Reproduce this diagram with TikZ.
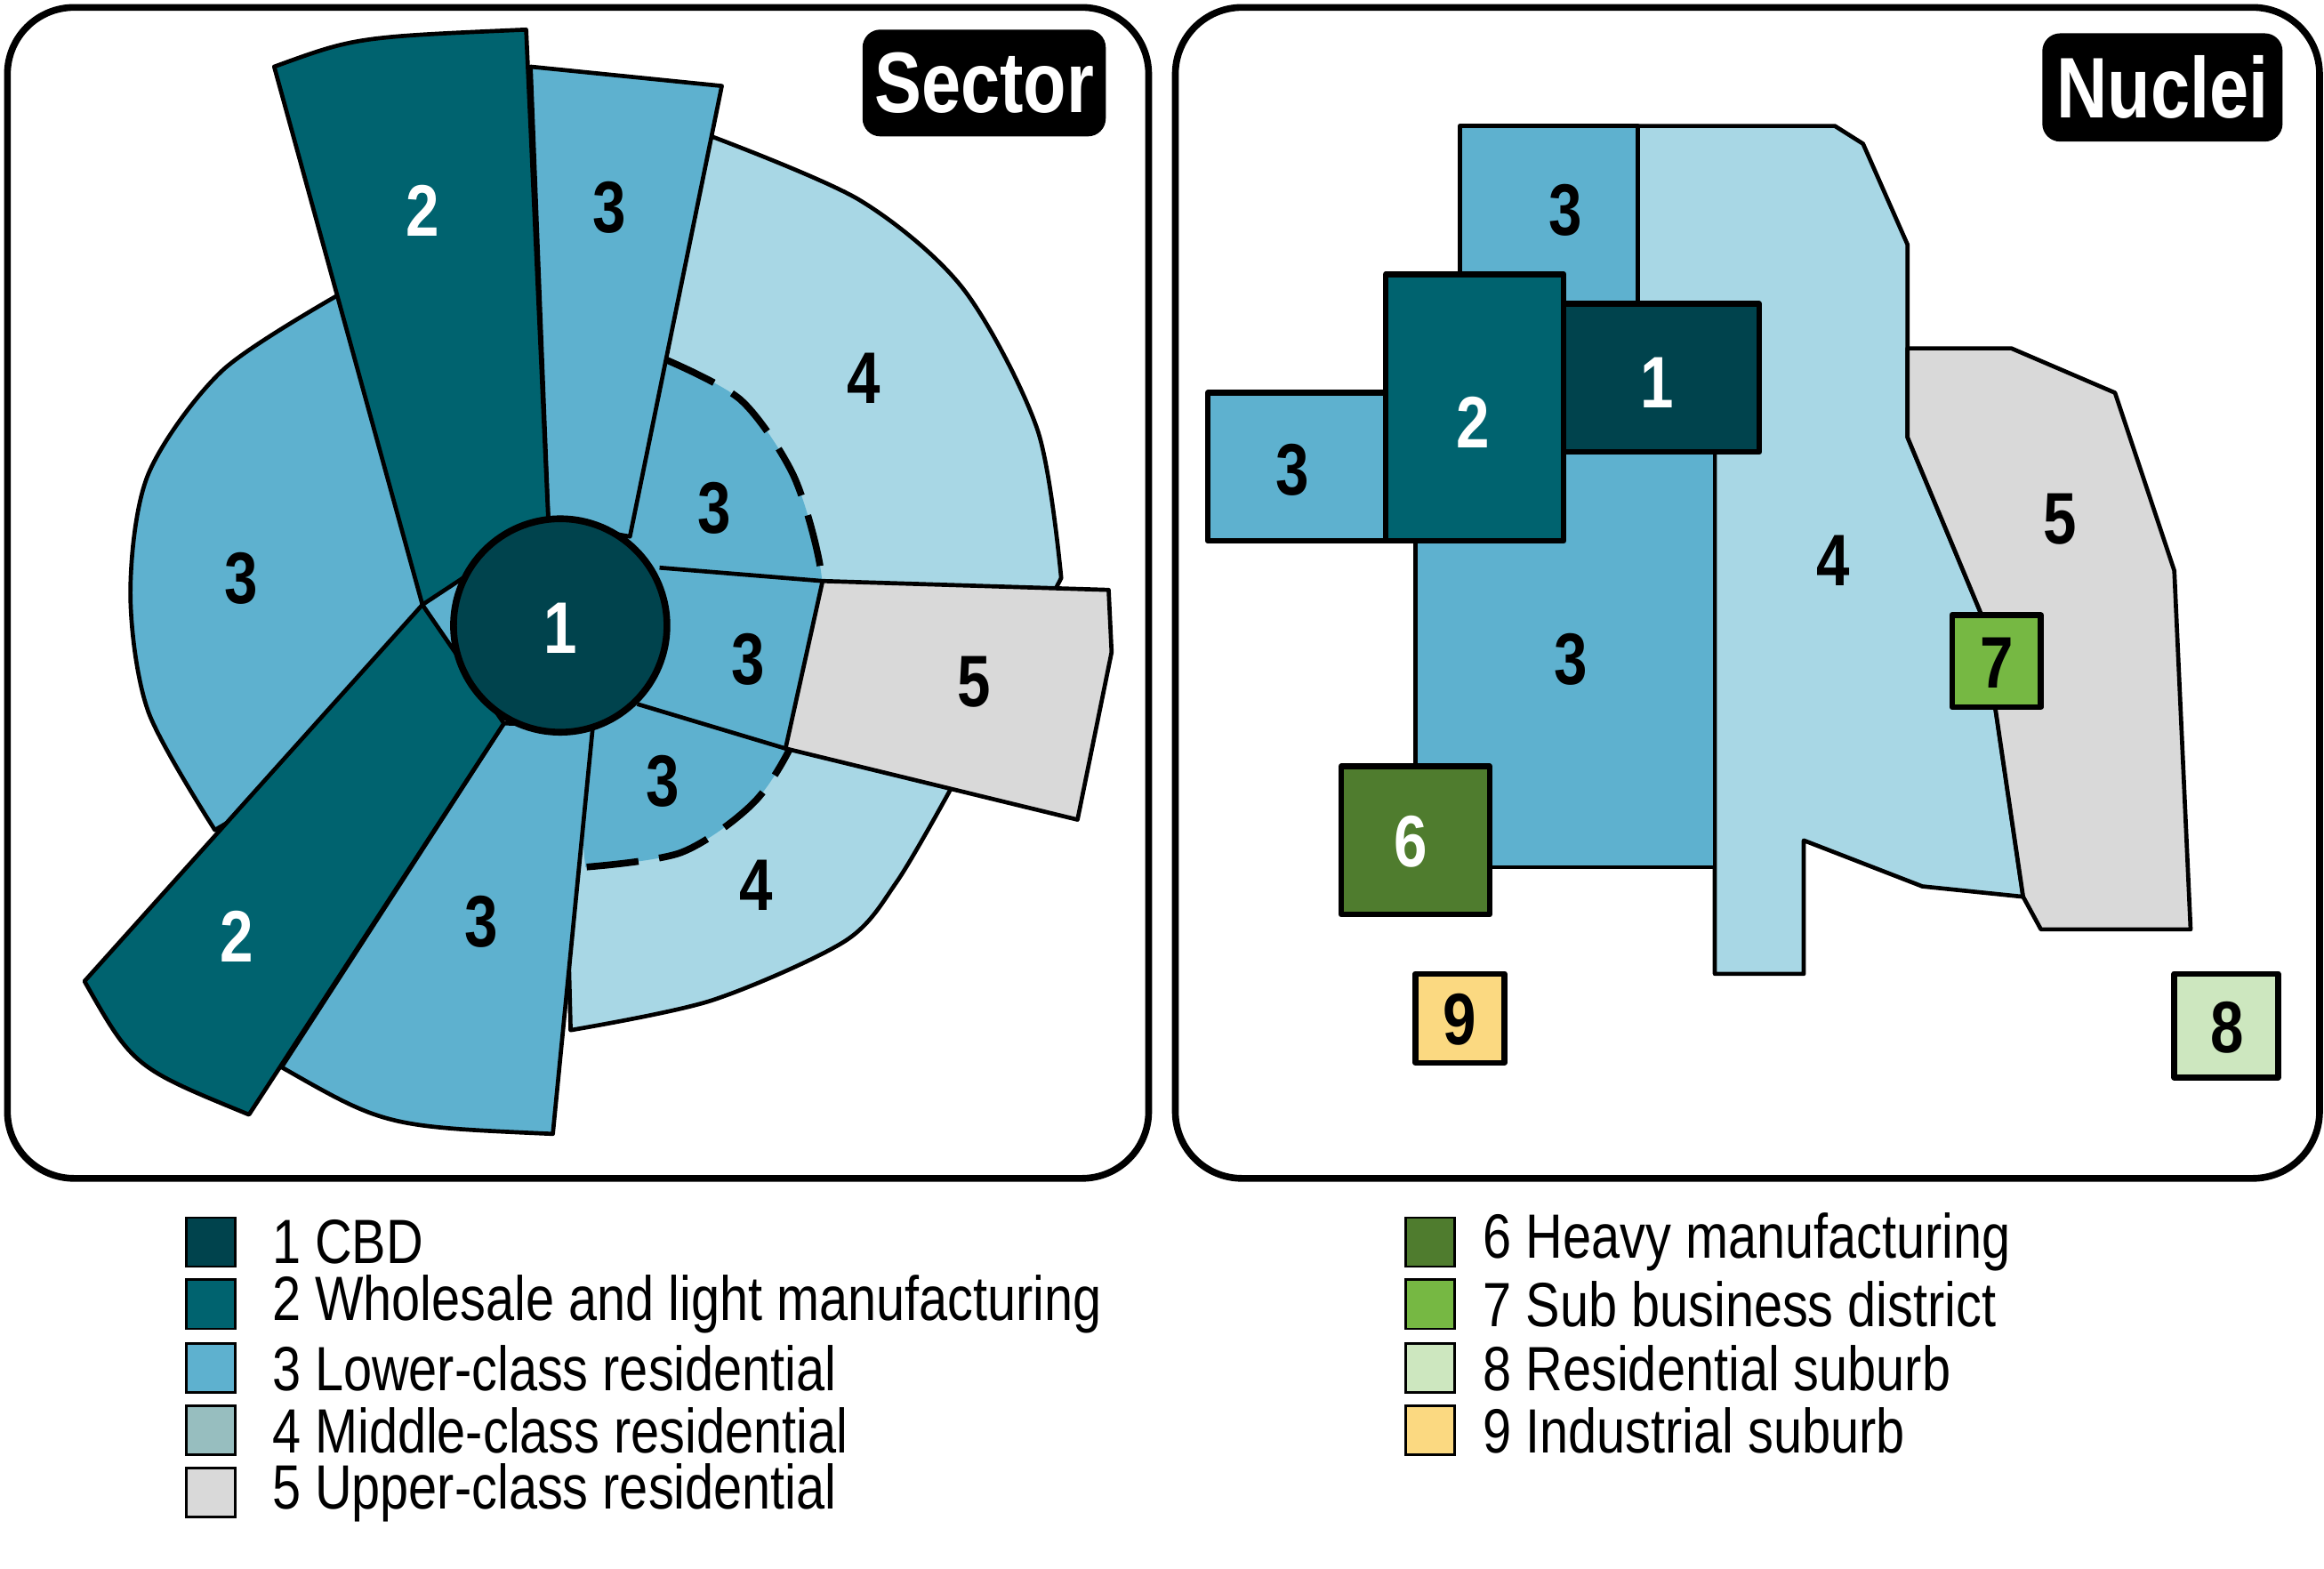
\documentclass[tikz,border=0pt]{standalone}
\usepackage{fontspec}
\setmainfont{Liberation Sans}[FakeStretch=0.82]
\begin{document}
\begin{tikzpicture}[x=0.01cm,y=-0.01cm,
  sh/.style={draw=black,line width=0.8pt,line join=round},
  lbl/.style={font=\bfseries\fontsize{14}{14}\selectfont},
  panel/.style={draw=black,line width=1.3pt,rounded corners=0.45cm,fill=white},
  ttl/.style={fill=black,text=white,rounded corners=0.12cm,font=\bfseries\fontsize{16.5}{16.5}\selectfont,inner sep=0pt},
  lg/.style={draw=black,line width=0.5pt,minimum size=0.33cm,inner sep=0pt},
  lt/.style={anchor=west,font=\fontsize{12}{12}\selectfont,inner sep=0pt}]
\definecolor{c1}{HTML}{00434D}
\definecolor{c2}{HTML}{00636F}
\definecolor{c3}{HTML}{5EB1CF}
\definecolor{c4}{HTML}{A8D7E5}
\definecolor{c4l}{HTML}{97BEBF}
\definecolor{c5}{HTML}{D9D9D9}
\definecolor{c6}{HTML}{4F7C2E}
\definecolor{c7}{HTML}{76B843}
\definecolor{c8}{HTML}{CDE7BF}
\definecolor{c9}{HTML}{FBD981}
\useasboundingbox (0,0) rectangle (1568,1058);
% panels
\draw[panel] (5,5) rectangle (775,795);
\draw[panel] (793,5) rectangle (1565,795);
% ---- sector ----
\filldraw[sh,fill=c3] plot[smooth] coordinates {(230,198) (150,250) (100,320) (88,400) (100,480) (145,560)} -- (378,422) -- cycle;
\filldraw[sh,fill=c4] plot[smooth] coordinates {(480,92) (580,135) (650,195) (700,290) (716,390)} -- (640,535) -- plot[smooth] coordinates {(640,535) (605,595) (570,635) (480,675) (385,695)} -- (378,422) -- cycle;
\fill[c3] plot[smooth] coordinates {(450,243) (500,270) (535,320) (553,380) (555,430) (540,490) (510,540) (460,575) (395,585)} -- (378,422) -- cycle;
\draw[line width=1.3pt,dash pattern=on 10pt off 4pt] plot[smooth] coordinates {(450,243) (500,270) (535,320) (553,380) (555,430) (540,490) (510,540) (460,575) (395,585)};
\filldraw[sh,fill=c5] (555,392) -- (748,398) -- (750,440) -- (727,553) -- (530,505) -- cycle;
\draw[sh] (445,383) -- (555,392);
\draw[sh] (430,475) -- (530,505);
\filldraw[sh,fill=c3] (358,45) -- (487,58) -- (425,362) -- (370,352) -- cycle;
\filldraw[sh,fill=c2] (185,45) .. controls (240,25) .. (355,20) -- (370,352) -- (285,408) -- cycle;
\filldraw[sh,fill=c3] (340,488) -- (190,720) .. controls (260,760) .. (373,765) -- (400,490) -- cycle;
\filldraw[sh,fill=c2] (285,408) -- (57,662) .. controls (90,720) .. (168,752) -- (340,488) -- cycle;
\filldraw[sh,fill=c1,line width=1.3pt] (378,422) circle (72);
\node[lbl,text=white] (s1) at (378,424) {1};
\node[lbl,text=white] (s2a) at (285,142) {2};
\node[lbl,text=white] (s2b) at (160,632) {2};
\node[lbl] (s3a) at (411,140) {3};
\node[lbl] (s3b) at (163,390) {3};
\node[lbl] (s3c) at (482,343) {3};
\node[lbl] (s3d) at (505,445) {3};
\node[lbl] (s3e) at (447,527) {3};
\node[lbl] (s3f) at (325,622) {3};
\node[lbl] (s4a) at (583,255) {4};
\node[lbl] (s4b) at (510,597) {4};
\node[lbl] (s5) at (657,460) {5};
\node[ttl,minimum width=1.64cm,minimum height=0.72cm] (t1) at (664,56) {Sector};
% ---- nuclei ----
\filldraw[sh,fill=c4] (1105,85) -- (1238,85) -- (1257,97) -- (1287,165) -- (1287,295) -- (1337,415) -- (1365,605) -- (1297,598) -- (1217,567) -- (1217,657) -- (1157,657) -- (1157,305) -- (1105,305) -- cycle;
\filldraw[sh,fill=c5] (1287,235) -- (1357,235) -- (1427,265) -- (1467,385) -- (1478,627) -- (1377,627) -- (1365,605) -- (1337,415) -- (1287,295) -- cycle;
\filldraw[sh,fill=c3] (985,85) rectangle (1105,220);
\filldraw[sh,fill=c3] (955,300) rectangle (1157,585);
\filldraw[sh,fill=c3,line width=1.1pt] (815,265) rectangle (935,365);
\filldraw[sh,fill=c2,line width=1.1pt] (935,185) rectangle (1055,365);
\filldraw[sh,fill=c1,line width=1.1pt] (1055,205) rectangle (1187,305);
\filldraw[sh,fill=c6,line width=1.1pt] (905,517) rectangle (1005,617);
\filldraw[sh,fill=c7,line width=1.1pt] (1317,415) rectangle (1377,477);
\filldraw[sh,fill=c9,line width=1.1pt] (955,657) rectangle (1015,717);
\filldraw[sh,fill=c8,line width=1.1pt] (1467,657) rectangle (1537,727);
\node[lbl,text=white] (n1) at (1118,258) {1};
\node[lbl,text=white] (n2) at (994,285) {2};
\node[lbl] (n3a) at (1056,142) {3};
\node[lbl] (n3b) at (872,317) {3};
\node[lbl] (n3c) at (1060,445) {3};
\node[lbl] (n4) at (1237,378) {4};
\node[lbl] (n5) at (1390,350) {5};
\node[lbl,text=white] (n6) at (952,568) {6};
\node[lbl] (n7) at (1347,447) {7};
\node[lbl] (n8) at (1503,693) {8};
\node[lbl] (n9) at (985,688) {9};
\node[ttl,minimum width=1.62cm,minimum height=0.73cm] (t2) at (1459,59) {Nuclei};
% ---- legend ----
\node[lg,fill=c1] (l1) at (142,838) {}; \node[lt] (lt1) at (183,838) {1 CBD};
\node[lg,fill=c2] (l2) at (142,880) {}; \node[lt] (lt2) at (183,880) {2 Wholesale and light manufacturing};
\node[lg,fill=c3] (l3) at (142,923) {}; \node[lt] (lt3) at (183,923) {3 Lower-class residential};
\node[lg,fill=c4l] (l4) at (142,965) {}; \node[lt] (lt4) at (183,965) {4 Middle-class residential};
\node[lg,fill=c5] (l5) at (142,1007) {}; \node[lt] (lt5) at (183,1007) {5 Upper-class residential};
\node[lg,fill=c6] (l6) at (965,838) {}; \node[lt] (lt6) at (1000,838) {6 Heavy manufacturing};
\node[lg,fill=c7] (l7) at (965,880) {}; \node[lt] (lt7) at (1000,880) {7 Sub business district};
\node[lg,fill=c8] (l8) at (965,923) {}; \node[lt] (lt8) at (1000,923) {8 Residential suburb};
\node[lg,fill=c9] (l9) at (965,965) {}; \node[lt] (lt9) at (1000,965) {9 Industrial suburb};
\end{tikzpicture}
\end{document}
